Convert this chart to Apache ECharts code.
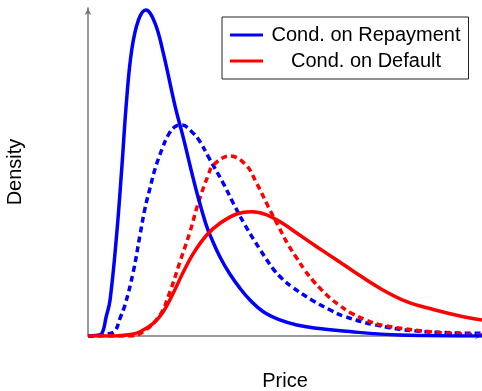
<!DOCTYPE html>
<html>
<head>
<meta charset="utf-8">
<script src="https://cdn.jsdelivr.net/npm/echarts@6/dist/echarts.min.js"></script>
<style>html,body{margin:0;padding:0;background:#fff}#c{width:482px;height:391px}</style>
</head>
<body>
<div id="c"></div>
<script>
const legendNames = ['Cond. on Repayment', 'Cond. on Default'];
const axisNames = { x: 'Price', y: 'Density' };

const repaySolidX = [0, 1.8, 3.5, 4.6, 5.6, 7.3, 8.6, 9.8, 11.1, 12.8, 14.7, 17.0, 19.1, 22.1, 24.2, 26.3, 28.0, 30.1, 31.4, 33.5, 36.0, 38.6, 41.1, 44.5, 48.7, 53.0, 58.1, 64.8, 79.2, 100];
const repaySolidY = [0, 0.15, 0.8, 5.8, 11.0, 31.3, 51.6, 72.0, 87.2, 96.3, 99.4, 95.4, 86.3, 70.1, 60.4, 50.0, 42.1, 33.5, 29.6, 24.1, 18.9, 14.5, 11.0, 7.4, 4.9, 3.35, 2.35, 1.5, 0.3, 0];

const repayDashX = [0, 3.05, 5.08, 6.85, 8.12, 9.39, 11.50, 13.20, 14.47, 15.74, 17.01, 18.71, 20.38, 22.08, 23.78, 26.32, 28.43, 30.53, 34.34, 36.88, 39.85, 43.65, 47.03, 49.16, 51.70, 56.78, 61.85, 64.80, 72.41, 83.43, 100];
const repayDashY = [0, 0.15, 0.61, 1.52, 5.40, 9.45, 19.60, 30.79, 38.93, 45.12, 50.91, 56.71, 61.28, 63.81, 64.33, 62.29, 59.24, 54.66, 46.55, 40.46, 33.84, 26.4, 20.4, 17.59, 15.03, 10.98, 7.71, 6.1, 3.5, 1.5, 0.8];

const defaultSolidX = [0, 6.85, 10.66, 13.20, 16.57, 19.11, 21.65, 24.19, 26.73, 30.13, 33.50, 37.74, 41.55, 45.36, 49.57, 52.97, 58.05, 63.12, 67.34, 74.11, 80.89, 87.64, 94.42, 100];
const defaultSolidY = [0, 0, 0.46, 1.31, 3.87, 7.41, 13.11, 19.51, 25.15, 30.79, 34.36, 37.20, 37.90, 36.95, 34.21, 31.40, 27.23, 23.17, 19.76, 14.54, 10.46, 8.08, 6.10, 4.88];

const defaultDashX = [0, 10.66, 14.04, 18.27, 20.81, 23.35, 25.89, 27.99, 30.53, 31.80, 36.04, 40.10, 42.82, 45.76, 48.30, 50.84, 52.97, 55.08, 57.18, 59.31, 61.42, 63.53, 66.50, 70.56, 74.95, 87.64, 100];
const defaultDashY = [0, 0, 1.31, 6.40, 13.51, 22.65, 31.80, 40.55, 49.09, 52.13, 54.88, 52.13, 46.55, 39.42, 33.54, 27.74, 23.78, 19.97, 16.77, 14.02, 11.59, 9.60, 7.16, 4.88, 3.20, 1.22, 0.30];

function zip(xs, ys) { return xs.map((x, i) => [x, ys[i]]); }

const FONT = 'Liberation Sans';
const chart = echarts.init(document.getElementById('c'), null, { renderer: 'canvas' });

function lineSeries(name, xs, ys, color, dashed) {
  return {
    name: name,
    type: 'line',
    data: zip(xs, ys),
    smooth: 0.4,
    symbol: 'none',
    showSymbol: false,
    silent: true,
    animation: false,
    z: dashed ? 2 : 3,
    lineStyle: { color: color, width: 3.5, type: dashed ? [6, 4] : 'solid' },
    itemStyle: { color: color }
  };
}

chart.setOption({
  animation: false,
  backgroundColor: '#fff',
  grid: { left: 88, right: 0, top: 8, bottom: 55, containLabel: false, outerBoundsMode: 'none' },
  xAxis: {
    type: 'value', min: 0, max: 100,
    name: axisNames.x, nameLocation: 'middle', nameGap: 35,
    nameTextStyle: { fontFamily: FONT, fontSize: 20, color: '#000' },
    axisLine: { show: true, lineStyle: { color: '#777', width: 1.5 }, symbol: ['none', 'arrow'], symbolSize: [5, 7] },
    axisTick: { show: false }, axisLabel: { show: false }, splitLine: { show: false }
  },
  yAxis: {
    type: 'value', min: 0, max: 100,
    name: axisNames.y, nameLocation: 'middle', nameGap: 63, nameRotate: 90,
    nameTextStyle: { fontFamily: FONT, fontSize: 20, color: '#000' },
    axisLine: { show: true, lineStyle: { color: '#777', width: 1.5 }, symbol: ['none', 'arrow'], symbolSize: [5, 7] },
    axisTick: { show: false }, axisLabel: { show: false }, splitLine: { show: false }
  },
  legend: {
    data: legendNames,
    orient: 'vertical',
    left: 222, top: 17,
    padding: [8, 8, 8, 8],
    itemGap: 6,
    icon: 'rect',
    itemWidth: 33, itemHeight: 3,
    backgroundColor: '#fff',
    borderColor: '#222', borderWidth: 1,
    selectedMode: false,
    formatter: '{a|{name}}',
    textStyle: {
      rich: { a: { width: 196, height: 20, align: 'center', fontFamily: FONT, fontSize: 20, color: '#000' } }
    }
  },
  series: [
    lineSeries('Repayment dashed', repayDashX, repayDashY, '#0000ff', true),
    lineSeries('Default dashed', defaultDashX, defaultDashY, '#ff0000', true),
    lineSeries(legendNames[0], repaySolidX, repaySolidY, '#0000ff', false),
    lineSeries(legendNames[1], defaultSolidX, defaultSolidY, '#ff0000', false)
  ]
});
</script>
</body>
</html>
